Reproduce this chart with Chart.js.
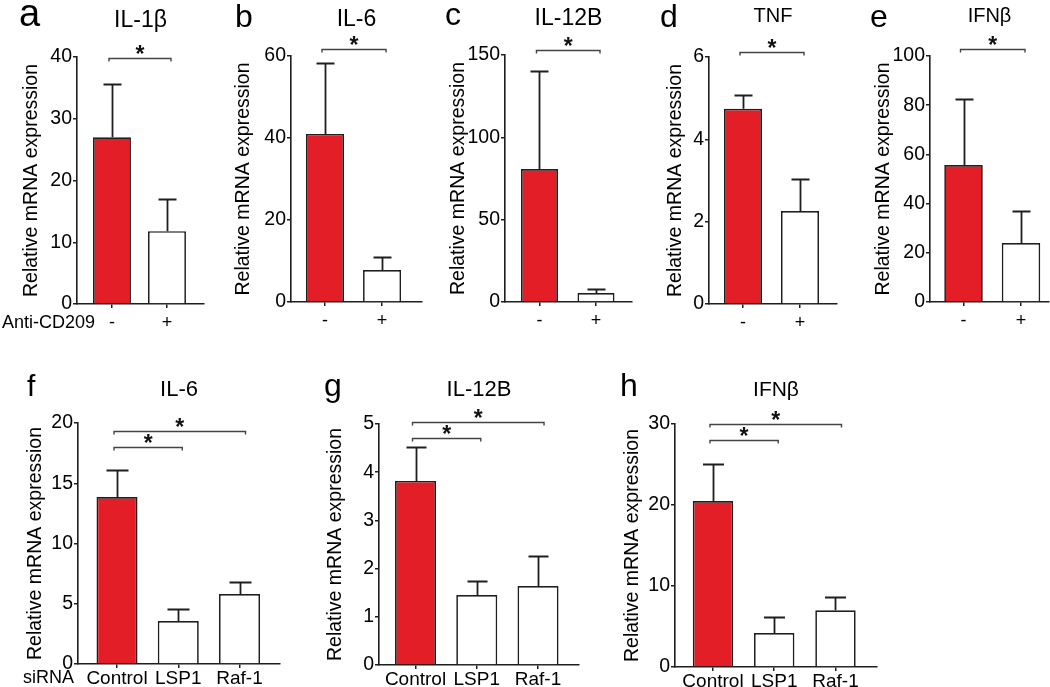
<!DOCTYPE html>
<html><head><meta charset="utf-8">
<script src="https://cdn.jsdelivr.net/npm/chart.js@4.4.1/dist/chart.umd.min.js"></script>
<style>
html,body{margin:0;padding:0;background:#fff;}
#fig{position:relative;width:1050px;height:687px;overflow:hidden;background:#fff;}
#fig canvas{position:absolute;}
</style></head><body><div id="fig"></div>
<script>
// ---------------- data ----------------
const panelLetters = ['a','b','c','d','e','f','g','h'];
const panelTitles = ['IL-1β','IL-6','IL-12B','TNF','IFNβ','IL-6','IL-12B','IFNβ'];
const yAxisTitle = 'Relative mRNA expression';
const antiCD209Labels = ['-','+'];
const sirnaLabels = ['Control','LSP1','Raf-1'];
const groupLabelTop = 'Anti-CD209';
const groupLabelBottom = 'siRNA';

const il1bMean = [27.0, 11.8];   const il1bSem = [8.6, 5.2];
const il6Mean = [41.0, 7.8];     const il6Sem = [17.3, 3.2];
const il12bMean = [80.8, 5.5];   const il12bSem = [59.5, 2.4];
const tnfMean = [4.74, 2.26];    const tnfSem = [0.34, 0.78];
const ifnbMean = [55.7, 24.0];   const ifnbSem = [26.8, 13.0];
const siIl6Mean = [13.86, 3.57, 5.8];   const siIl6Sem = [2.24, 0.99, 1.0];
const siIl12bMean = [3.82, 1.45, 1.64]; const siIl12bSem = [0.70, 0.29, 0.62];
const siIfnbMean = [20.5, 4.2, 7.0];    const siIfnbSem = [4.6, 2.0, 1.6];

const yMaxes = [40, 60, 150, 6, 100, 20, 5, 30];
const yStepSizes = [10, 20, 50, 2, 20, 5, 1, 10];
const sigPairsTop = [[0,1]];
const sigPairsBottom = [[0,1],[0,2]];
const bracketLevels = [[39.8],[61.7],[153],[6.12],[102.8],[18.0,19.3],[4.71,5.04],[28.0,30.0]];
const sigMark = '*';

// ---------------- assembly ----------------
const means = [il1bMean, il6Mean, il12bMean, tnfMean, ifnbMean, siIl6Mean, siIl12bMean, siIfnbMean];
const sems  = [il1bSem, il6Sem, il12bSem, tnfSem, ifnbSem, siIl6Sem, siIl12bSem, siIfnbSem];
const catLabels = [antiCD209Labels, antiCD209Labels, antiCD209Labels, antiCD209Labels, antiCD209Labels, sirnaLabels, sirnaLabels, sirnaLabels];
const pairs = [sigPairsTop, sigPairsTop, sigPairsTop, sigPairsTop, sigPairsTop, sigPairsBottom, sigPairsBottom, sigPairsBottom];

// ---------------- layout / style ----------------
const FONT = "'Liberation Sans', Arial, Helvetica, sans-serif";
const RED = '#E41E26';
const INK = '#1e1e1e';
const layout = [
  {cl:0,   ct:0,   cw:210, ch:340, x0:77,  x1:204,  yT:57,  yB:304, tcx:32,  xMin:-0.636, xMax:1.673, barPct:0.69, cap:18, lx:19, ly:26, ls:38, ty:27, ts:23, group:groupLabelTop, gx:2, gy:328},
  {cl:210, ct:0,   cw:215, ch:340, x0:291, x1:422,  yT:56,  yB:302, tcx:244, xMin:-0.596, xMax:1.70,  barPct:0.667, cap:18, lx:235, ly:27, ls:32, ty:26, ts:23},
  {cl:425, ct:0,   cw:212, ch:340, x0:505, x1:632,  yT:55,  yB:302, tcx:459, xMin:-0.61,  xMax:1.637, barPct:0.655, cap:18, lx:445, ly:25, ls:32, ty:25, ts:23},
  {cl:637, ct:0,   cw:205, ch:340, x0:709, x1:837,  yT:57,  yB:304, tcx:676, xMin:-0.596, xMax:1.649, barPct:0.667, cap:18, lx:660, ly:27, ls:32, ty:22, ts:20},
  {cl:842, ct:0,   cw:208, ch:340, x0:930, x1:1049, yT:56,  yB:302, tcx:884, xMin:-0.583, xMax:1.487, barPct:0.67, cap:18, lx:870, ly:27, ls:32, ty:22, ts:20},
  {cl:0,   ct:360, cw:300, ch:327, x0:78,  x1:280,  yT:423, yB:664, tcx:36,  xMin:-0.637, xMax:2.661, barPct:0.67, cap:22, lx:27, ly:396, ls:30, ty:396, ts:22, group:groupLabelBottom, gx:23, gy:683},
  {cl:300, ct:360, cw:305, ch:327, x0:379, x1:579,  yT:424, yB:665, tcx:336, xMin:-0.596, xMax:2.669, barPct:0.67, cap:20, lx:324, ly:396, ls:32, ty:396, ts:22},
  {cl:605, ct:360, cw:300, ch:327, x0:675, x1:877,  yT:424, yB:667, tcx:633, xMin:-0.62,  xMax:2.678, barPct:0.66, cap:21, lx:620, ly:396, ls:32, ty:396, ts:21}
];

const decor = {
  id: 'panelDecor',
  afterDatasetsDraw(chart, args, o) {
    const ctx = chart.ctx, x = chart.scales.x, y = chart.scales.y;
    ctx.save();
    ctx.strokeStyle = INK; ctx.lineWidth = 1.8; ctx.lineCap = 'butt';
    o.means.forEach((m, i) => {
      const px = Math.round(x.getPixelForValue(i)) + 0.5;
      const base = y.getPixelForValue(m);
      const top = Math.round(y.getPixelForValue(m + o.sems[i])) + 0.5;
      ctx.beginPath();
      ctx.moveTo(px, base); ctx.lineTo(px, top);
      ctx.moveTo(px - o.cap / 2, top); ctx.lineTo(px + o.cap / 2, top);
      ctx.stroke();
    });
    // significance brackets
    ctx.strokeStyle = '#444'; ctx.lineWidth = 1.4;
    o.pairs.forEach((p, k) => {
      const yy = Math.round(y.getPixelForValue(o.levels[k])) + 0.5;
      const xa = x.getPixelForValue(p[0]) - 3;
      const xb = x.getPixelForValue(p[1]) + (k === 0 ? 4 : 6);
      ctx.beginPath();
      ctx.moveTo(xa, yy + 3); ctx.lineTo(xa, yy); ctx.lineTo(xb, yy); ctx.lineTo(xb, yy + 3);
      ctx.stroke();
      ctx.fillStyle = '#111';
      ctx.font = 'bold 23px ' + FONT;
      ctx.textAlign = 'center'; ctx.textBaseline = 'alphabetic';
      ctx.fillText(sigMark, (xa + xb) / 2, yy - 10 + 0.58 * 23);
    });
    ctx.restore();
  },
  afterDraw(chart, args, o) {
    const ctx = chart.ctx, a = chart.chartArea;
    ctx.save();
    ctx.fillStyle = '#000';
    ctx.textBaseline = 'alphabetic';
    ctx.textAlign = 'left';
    ctx.font = o.ls + 'px ' + FONT;
    ctx.fillText(o.letter, o.lx, o.ly);
    ctx.textAlign = 'center';
    ctx.font = o.ts + 'px ' + FONT;
    ctx.fillText(o.title, (a.left + a.right) / 2, o.ty);
    if (o.group) {
      ctx.textAlign = 'left';
      ctx.font = '18px ' + FONT;
      ctx.fillText(o.group, o.gx, o.gy);
    }
    ctx.restore();
  }
};

Chart.defaults.font.family = FONT;
Chart.defaults.color = '#000';
const fig = document.getElementById('fig');
const Y_TITLE_SIZE = 19.5;

layout.forEach((L, p) => {
  const cv = document.createElement('canvas');
  cv.width = L.cw; cv.height = L.ch;
  cv.style.left = L.cl + 'px'; cv.style.top = L.ct + 'px';
  cv.style.width = L.cw + 'px'; cv.style.height = L.ch + 'px';
  fig.appendChild(cv);
  const padLeft = L.tcx - L.cl - 0.6 * Y_TITLE_SIZE;
  const yWidth = L.x0 - L.cl - padLeft;
  const xHeight = L.ct + L.ch - L.yB;
  const labels = catLabels[p];
  new Chart(cv, {
    type: 'bar',
    data: {
      datasets: [{
        data: means[p].map((v, i) => ({x: i, y: v})),
        backgroundColor: means[p].map((v, i) => i === 0 ? RED : '#ffffff'),
        borderColor: INK,
        borderWidth: 1.7,
        borderSkipped: 'start',
        barPercentage: L.barPct,
        categoryPercentage: 1
      }]
    },
    options: {
      responsive: false, animation: false, devicePixelRatio: 1,
      events: [],
      layout: {padding: {left: padLeft, top: L.yT - L.ct, right: L.cl + L.cw - L.x1, bottom: 0}},
      plugins: {
        legend: {display: false}, tooltip: {enabled: false}, title: {display: false},
        panelDecor: {
          means: means[p], sems: sems[p], cap: L.cap,
          pairs: pairs[p], levels: bracketLevels[p],
          letter: panelLetters[p], lx: L.lx - L.cl, ly: L.ly - L.ct, ls: L.ls,
          title: panelTitles[p], ty: L.ty - L.ct, ts: L.ts,
          group: L.group, gx: (L.gx || 0) - L.cl, gy: (L.gy || 0) - L.ct
        }
      },
      scales: {
        x: {
          type: 'linear', offset: false, min: L.xMin, max: L.xMax,
          grid: {offset: false, drawOnChartArea: false, drawTicks: true, tickLength: 4, color: INK, lineWidth: 1.5},
          border: {display: true, color: INK, width: 1.6},
          afterBuildTicks: s => { s.ticks = labels.map((t, i) => ({value: i})); },
          afterFit: s => { s.height = xHeight; },
          ticks: {
            autoSkip: false, maxRotation: 0, padding: p < 5 ? 4 : -1,
            font: {size: p < 5 ? 18 : 19},
            callback: v => labels[v]
          }
        },
        y: {
          type: 'linear', min: 0, max: yMaxes[p],
          afterFit: s => { s.width = yWidth; },
          grid: {drawOnChartArea: false, drawTicks: true, tickLength: 4, color: INK, lineWidth: 1.5},
          border: {display: true, color: INK, width: 1.6},
          ticks: {stepSize: yStepSizes[p], padding: 1, font: {size: 19.5}},
          title: {display: true, text: yAxisTitle, padding: 0, font: {size: Y_TITLE_SIZE}}
        }
      }
    },
    plugins: [decor]
  });
});
</script></body></html>
